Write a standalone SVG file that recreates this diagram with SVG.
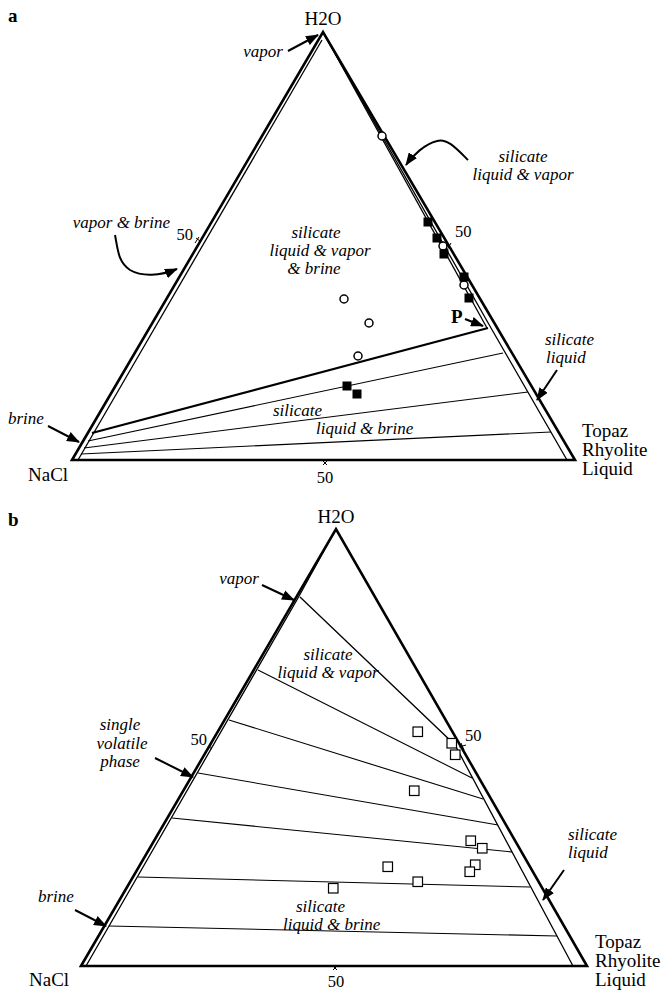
<svg xmlns="http://www.w3.org/2000/svg" width="661" height="991" viewBox="0 0 661 991">
<defs>
<marker id="ah" markerUnits="userSpaceOnUse" markerWidth="13" markerHeight="10" viewBox="0 0 13 10" refX="12" refY="5" orient="auto">
<path d="M0,0 L13,5 L0,10 z" fill="#000"/>
</marker>
</defs>
<style>
.edge{fill:none;stroke:#000;stroke-width:2.6;stroke-linejoin:miter}
.inner{fill:none;stroke:#000;stroke-width:1.3}
.tie{fill:none;stroke:#000;stroke-width:1.1}
.thick{fill:none;stroke:#000;stroke-width:2.2}
.arr{fill:none;stroke:#000;stroke-width:2;marker-end:url(#ah)}
.tick{fill:none;stroke:#000;stroke-width:1}
.lab{font-family:"Liberation Serif","Times New Roman",serif;font-size:19px;fill:#000}
.it{font-family:"Liberation Serif","Times New Roman",serif;font-size:17px;font-style:italic;fill:#000}
.num{font-family:"Liberation Serif","Times New Roman",serif;font-size:16.5px;fill:#000}
.bold{font-family:"Liberation Serif","Times New Roman",serif;font-size:19px;font-weight:bold;fill:#000}
.sq{fill:#000;stroke:none}
.osq{fill:#fff;stroke:#000;stroke-width:1.2}
.circ{fill:#fff;stroke:#000;stroke-width:1.5}
</style>

<!-- ================= Diagram a ================= -->
<g id="diagram-a">
  <g id="a-frame">
    <path class="edge" d="M72,460 L323,32 L575,460 Z"/>
    <path class="inner" d="M78,460 L322,40"/>
    <path class="inner" d="M323,32 L491,328 L567,460"/>
    <path class="inner" d="M323,32 L487,328"/>
  </g>
  <g id="a-ties">
    <path class="thick" d="M92,433 L488,328"/>
    <path class="tie" d="M88,441 L503,353"/>
    <path class="tie" d="M84,448 L528,392"/>
    <path class="tie" d="M81,454 L551,432"/>
  </g>
  <g id="a-points">
    <circle class="circ" cx="382" cy="136" r="4"/>
    <circle class="circ" cx="443" cy="246" r="4"/>
    <circle class="circ" cx="464" cy="285" r="4"/>
    <circle class="circ" cx="344" cy="299" r="4"/>
    <circle class="circ" cx="369" cy="323" r="4"/>
    <circle class="circ" cx="358" cy="356" r="4"/>
    <rect class="sq" x="423.5" y="217.5" width="9" height="9"/>
    <rect class="sq" x="432.5" y="233.5" width="9" height="9"/>
    <rect class="sq" x="439.5" y="249.5" width="9" height="9"/>
    <rect class="sq" x="459.5" y="272.5" width="9" height="9"/>
    <rect class="sq" x="464.5" y="293.5" width="9" height="9"/>
    <rect class="sq" x="342.5" y="381.5" width="9" height="9"/>
    <rect class="sq" x="352.5" y="389.5" width="9" height="9"/>
  </g>
  <g id="a-ticks">
    <path class="tick" d="M195,243 L199,237 M196,238 L200,241"/>
    <path class="tick" d="M446,245 L452,249 M447,250 L451,243"/>
    <path class="tick" d="M323,465 L327,461 M323,461 L327,465"/>
  </g>
  <g id="a-connectors">
    <path class="arr" d="M288,51 L318,35"/>
    <path class="arr" d="M468,160 C456,148 447,138 437,141 C425,144 413,155 406,165"/>
    <path class="arr" d="M115,235 C118,250 118,262 130,270 C142,277 160,276 177,269"/>
    <path class="arr" d="M465,319 L483,326"/>
    <path class="arr" d="M557,370 L537,400"/>
    <path class="arr" d="M48,426 L79,442"/>
  </g>
  <g id="a-labels">
    <text class="bold" x="8" y="22">a</text>
    <text class="lab" x="323" y="25" text-anchor="middle">H2O</text>
    <text class="it" x="283" y="57" text-anchor="end">vapor</text>
    <text class="it" x="523" y="162" text-anchor="middle">silicate</text>
    <text class="it" x="523" y="180" text-anchor="middle">liquid &amp; vapor</text>
    <text class="it" x="170" y="228" text-anchor="end">vapor &amp; brine</text>
    <text class="num" x="193" y="240" text-anchor="end">50</text>
    <text class="num" x="455" y="237">50</text>
    <text class="it" x="316" y="238" text-anchor="middle">silicate</text>
    <text class="it" x="320" y="256" text-anchor="middle">liquid &amp; vapor</text>
    <text class="it" x="314" y="274" text-anchor="middle">&amp; brine</text>
    <text class="it" x="273" y="416">silicate</text>
    <text class="it" x="316" y="434">liquid &amp; brine</text>
    <text class="bold" x="451" y="323">P</text>
    <text class="it" x="545" y="345">silicate</text>
    <text class="it" x="546" y="363">liquid</text>
    <text class="it" x="8" y="424">brine</text>
    <text class="lab" x="28" y="481">NaCl</text>
    <text class="num" x="325" y="483" text-anchor="middle">50</text>
    <text class="lab" x="582" y="437">Topaz</text>
    <text class="lab" x="582" y="456">Rhyolite</text>
    <text class="lab" x="582" y="475">Liquid</text>
  </g>
</g>

<!-- ================= Diagram b ================= -->
<g id="diagram-b">
  <g id="b-frame">
    <path class="edge" d="M81,966 L336,529 L587,966 Z"/>
    <path class="inner" d="M86,966 L298,598 L336,529"/>
    <path class="inner" d="M300,597 L455,745 L573,966"/>
  </g>
  <g id="b-ties">
    <path class="tie" d="M258,670 L472,778"/>
    <path class="tie" d="M229,720 L483,799"/>
    <path class="tie" d="M198,773 L498,825"/>
    <path class="tie" d="M172,818 L512,852"/>
    <path class="tie" d="M138,877 L530,887"/>
    <path class="tie" d="M109,926 L557,936"/>
  </g>
  <g id="b-points">
    <rect class="osq" x="413" y="727" width="9.5" height="9.5"/>
    <rect class="osq" x="447" y="738.5" width="9.5" height="9.5"/>
    <rect class="osq" x="450.5" y="750" width="9.5" height="9.5"/>
    <rect class="osq" x="409.5" y="786" width="9.5" height="9.5"/>
    <rect class="osq" x="466" y="836" width="9.5" height="9.5"/>
    <rect class="osq" x="477.5" y="843.5" width="9.5" height="9.5"/>
    <rect class="osq" x="470.5" y="860" width="9.5" height="9.5"/>
    <rect class="osq" x="465" y="867" width="9.5" height="9.5"/>
    <rect class="osq" x="383" y="862" width="9.5" height="9.5"/>
    <rect class="osq" x="413" y="877" width="9.5" height="9.5"/>
    <rect class="osq" x="328.5" y="883.5" width="9.5" height="9.5"/>
  </g>
  <g id="b-ticks">
    <path class="tick" d="M207,751 L211,745 M208,746 L212,749"/>
    <path class="tick" d="M459,747 L466,745 M461,743 L464,750"/>
    <path class="tick" d="M333,970 L337,966 M333,966 L337,970"/>
  </g>
  <g id="b-connectors">
    <path class="arr" d="M262,585 L294,600"/>
    <path class="arr" d="M155,758 L193,777"/>
    <path class="arr" d="M75,910 L106,926"/>
    <path class="arr" d="M564,870 L543,900"/>
  </g>
  <g id="b-labels">
    <text class="bold" x="8" y="526">b</text>
    <text class="lab" x="336" y="523" text-anchor="middle">H2O</text>
    <text class="it" x="259" y="584" text-anchor="end">vapor</text>
    <text class="it" x="328" y="660" text-anchor="middle">silicate</text>
    <text class="it" x="328" y="678" text-anchor="middle">liquid &amp; vapor</text>
    <text class="num" x="465" y="741">50</text>
    <text class="num" x="207" y="745" text-anchor="end">50</text>
    <text class="it" x="120" y="730" text-anchor="middle">single</text>
    <text class="it" x="122" y="749" text-anchor="middle">volatile</text>
    <text class="it" x="120" y="767" text-anchor="middle">phase</text>
    <text class="it" x="38" y="902">brine</text>
    <text class="it" x="296" y="912">silicate</text>
    <text class="it" x="283" y="930">liquid  &amp; brine</text>
    <text class="it" x="568" y="840">silicate</text>
    <text class="it" x="568" y="858">liquid</text>
    <text class="lab" x="595" y="948">Topaz</text>
    <text class="lab" x="595" y="967">Rhyolite</text>
    <text class="lab" x="595" y="986">Liquid</text>
    <text class="lab" x="29" y="986">NaCl</text>
    <text class="num" x="336" y="987" text-anchor="middle">50</text>
  </g>
</g>
</svg>
